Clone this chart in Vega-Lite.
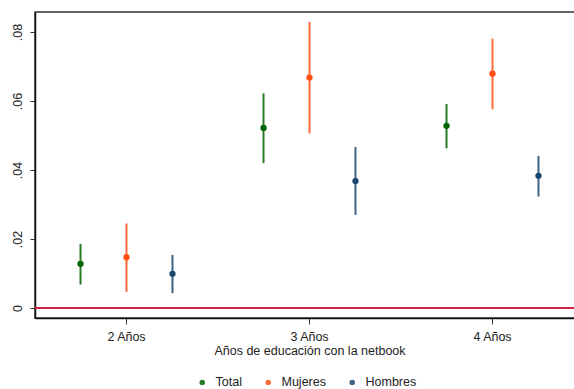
{
  "$schema": "https://vega.github.io/schema/vega-lite/v6.json",
  "width": 549,
  "height": 306,
  "autosize": {"type": "none"},
  "padding": {"left": 35, "top": 12, "right": 0, "bottom": 71},
  "background": "white",
  "config": {
    "font": "Liberation Sans",
    "view": {"stroke": "#333333", "strokeWidth": 1.5},
    "axis": {"grid": false, "labelFont": "Liberation Sans", "titleFont": "Liberation Sans", "labelColor": "#222222", "titleColor": "#222222", "labelFontSize": 12.5, "titleFontSize": 12.5, "titleFontWeight": "normal", "domainColor": "#111111", "tickColor": "#333333"},
    "legend": {"labelFont": "Liberation Sans", "labelFontSize": 12.5, "labelColor": "#222222"}
  },
  "layer": [
    {
      "data": {"values": [{"zero": 0}]},
      "mark": {"type": "rule", "color": "#cc2347", "strokeWidth": 2},
      "encoding": {"y": {"field": "zero", "type": "quantitative"}}
    },
    {
      "data": {"values": [
        {"cat": "2 Años", "serie": "Total", "est": 0.0128, "lo": 0.0068, "hi": 0.0186},
        {"cat": "2 Años", "serie": "Mujeres", "est": 0.0147, "lo": 0.0047, "hi": 0.0245},
        {"cat": "2 Años", "serie": "Hombres", "est": 0.0099, "lo": 0.0043, "hi": 0.0154},
        {"cat": "3 Años", "serie": "Total", "est": 0.0522, "lo": 0.0420, "hi": 0.0622},
        {"cat": "3 Años", "serie": "Mujeres", "est": 0.0668, "lo": 0.0506, "hi": 0.0829},
        {"cat": "3 Años", "serie": "Hombres", "est": 0.0368, "lo": 0.0270, "hi": 0.0467},
        {"cat": "4 Años", "serie": "Total", "est": 0.0528, "lo": 0.0463, "hi": 0.0591},
        {"cat": "4 Años", "serie": "Mujeres", "est": 0.0679, "lo": 0.0576, "hi": 0.0781},
        {"cat": "4 Años", "serie": "Hombres", "est": 0.0383, "lo": 0.0323, "hi": 0.0441}
      ]},
      "encoding": {
        "x": {"field": "cat", "type": "nominal", "sort": ["2 Años", "3 Años", "4 Años"],
              "scale": {"paddingInner": 0, "paddingOuter": 0},
              "axis": {"title": "Años de educación con la netbook", "labelAngle": 0, "tickSize": 6, "labelPadding": 6, "titlePadding": 2, "domainWidth": 1.5}},
        "xOffset": {"field": "serie", "type": "nominal", "sort": ["Total", "Mujeres", "Hombres"],
              "scale": {"domain": ["Total", "Mujeres", "Hombres"], "paddingInner": 0, "paddingOuter": 0.49}},
        "color": {"field": "serie", "type": "nominal",
              "scale": {"domain": ["Total", "Mujeres", "Hombres"], "range": ["#006400", "#ff5014", "#1a476f"]},
              "legend": {"title": null, "orient": "none", "legendX": 161, "legendY": 364, "direction": "horizontal", "symbolType": "circle", "symbolSize": 30, "symbolStrokeWidth": 0, "columnPadding": 20, "labelOffset": 7}}
      },
      "layer": [
        {"mark": {"type": "rule", "strokeWidth": 2, "opacity": 0.85},
         "encoding": {"y": {"field": "lo", "type": "quantitative",
                            "scale": {"domain": [-0.0029, 0.0858], "nice": false, "zero": false},
                            "axis": {"title": null, "values": [0, 0.02, 0.04, 0.06, 0.08], "labelAngle": -90, "labelAlign": "center", "labelBaseline": "bottom", "labelPadding": 6, "tickSize": 5, "domainWidth": 1.5,
                                     "labelExpr": "datum.value == 0 ? '0' : replace(format(datum.value, '.2f'), '0.', '.')"}},
                      "y2": {"field": "hi"}}},
        {"mark": {"type": "point", "filled": true, "shape": "circle", "size": 40, "opacity": 1},
         "encoding": {"y": {"field": "est", "type": "quantitative"}}}
      ]
    }
  ]
}
